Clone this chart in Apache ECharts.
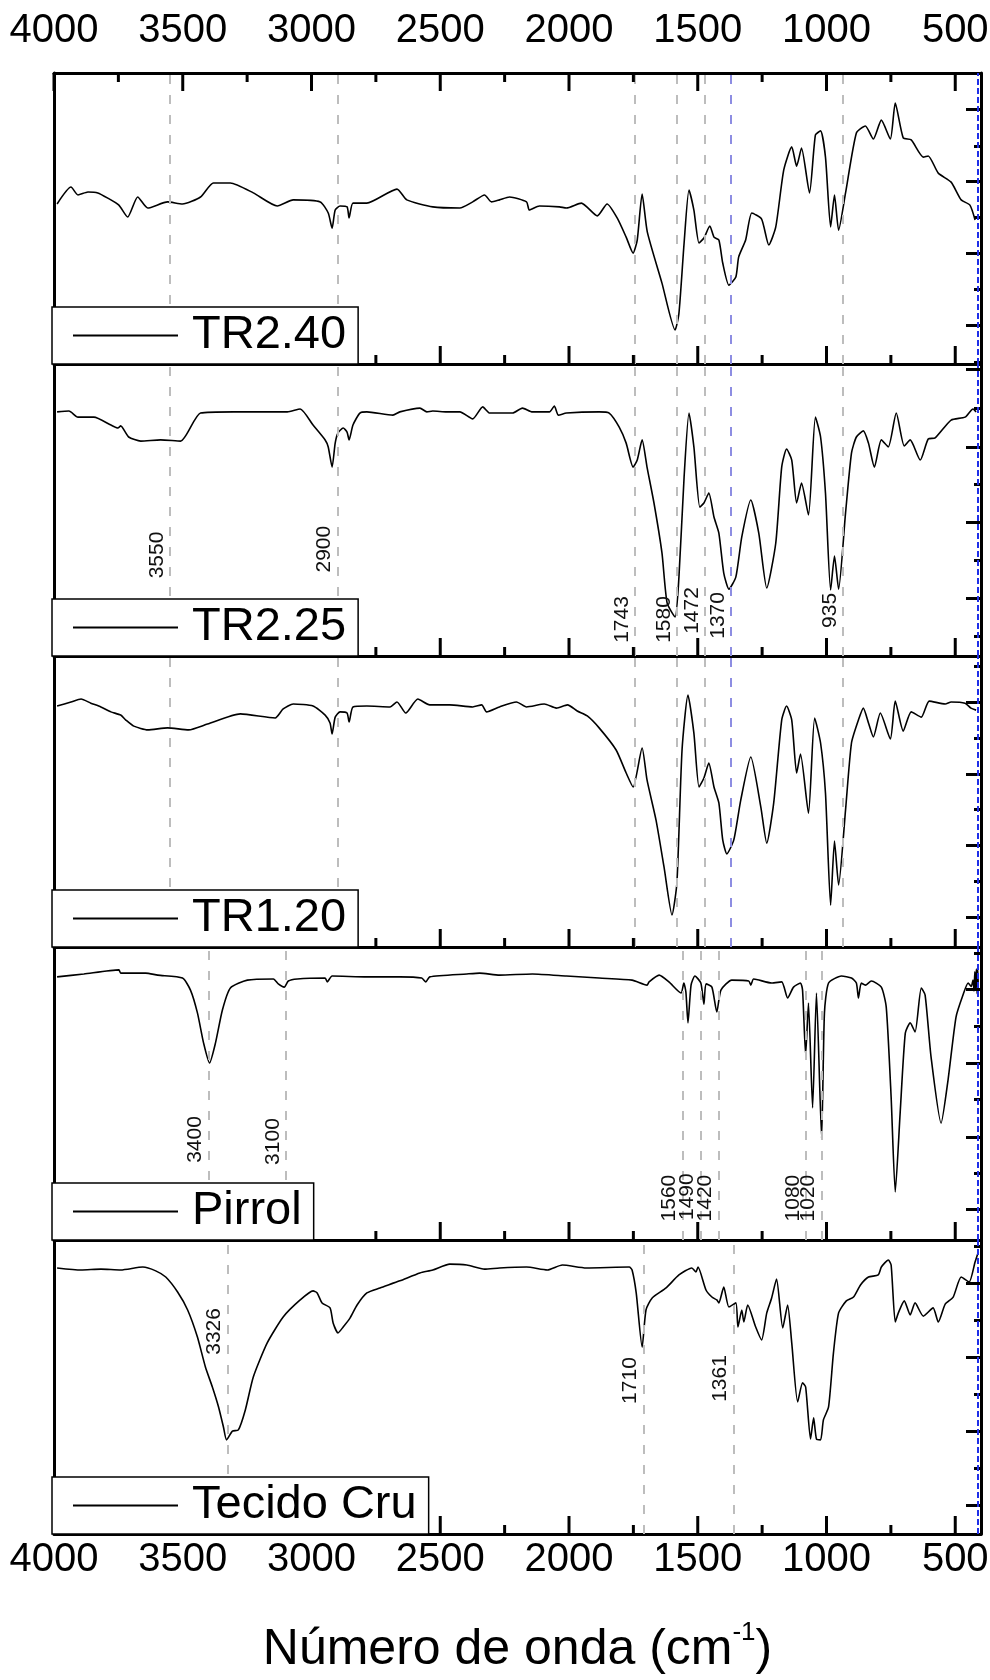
<!DOCTYPE html>
<html>
<head>
<meta charset="utf-8">
<script src="https://cdn.jsdelivr.net/npm/echarts@6/dist/echarts.min.js"></script>
<style>
  html, body { margin: 0; padding: 0; background: #fff; }
  #chart { width: 990px; height: 1680px; }
</style>
</head>
<body>
<div id="chart"></div>
<script>
// FTIR spectra, [wavenumber (cm-1), transmittance (a.u., 0-100 per panel)]
const tr240 = [
  [3988,55.0],[3934,60.8],[3907,58.1],[3868,59.1],[3830,58.8],[3791,57.0],[3748,54.6],[3714,50.5],
  [3675,57.4],[3636,53.6],[3559,55.7],[3501,55.0],[3431,57.4],[3381,62.2],[3315,62.2],[3226,58.8],
  [3133,54.3],[3071,56.4],[2966,55.7],[2935,51.9],[2920,46.7],[2908,52.9],[2889,54.3],[2862,54.0],
  [2854,50.2],[2839,55.3],[2785,55.3],[2668,60.1],[2630,56.4],[2529,54.0],[2424,53.6],[2374,55.7],
  [2328,58.1],[2301,55.7],[2270,56.4],[2231,57.4],[2165,55.7],[2154,52.9],[2115,54.3],[2037,54.0],
  [2010,53.6],[1952,55.3],[1890,50.9],[1852,55.0],[1813,50.2],[1778,43.6],[1751,38.1],[1735,42.6],
  [1716,58.4],[1696,45.4],[1639,27.8],[1588,11.7],[1573,17.5],[1553,41.6],[1534,59.8],[1515,52.9],
  [1495,41.6],[1476,43.3],[1453,47.4],[1437,43.6],[1418,42.6],[1403,34.7],[1379,27.1],[1352,29.9],
  [1341,36.8],[1314,42.6],[1290,51.9],[1252,49.8],[1224,40.9],[1197,47.1],[1166,66.7],[1135,74.6],
  [1116,68.0],[1097,74.2],[1066,58.8],[1043,78.7],[1023,80.1],[1004,71.1],[984,47.1],[969,58.1],
  [953,46.0],[926,58.8],[884,79.4],[849,81.8],[818,77.3],[787,83.8],[752,77.3],[733,89.7],
  [702,77.7],[671,77.0],[624,71.1],[605,71.5],[566,65.6],[516,62.5],[477,56.4],[443,54.6],[423,49.5]
];

const tr225 = [
  [3988,83.6],[3942,83.9],[3907,81.8],[3845,81.8],[3779,79.1],[3752,78.1],[3741,78.8],[3710,75.0],
  [3663,73.6],[3586,74.0],[3508,73.6],[3431,83.2],[3303,83.6],[3094,83.6],[3044,84.6],[2994,79.1],
  [2947,74.0],[2935,71.6],[2920,64.7],[2908,72.9],[2897,76.4],[2877,78.1],[2862,76.7],[2854,74.0],
  [2839,79.1],[2812,83.2],[2785,83.6],[2684,82.5],[2657,83.6],[2579,84.9],[2552,83.6],[2529,83.9],
  [2475,83.6],[2424,83.6],[2374,81.2],[2335,85.3],[2308,83.2],[2270,83.2],[2219,83.2],[2181,84.9],
  [2142,83.6],[2076,83.6],[2057,85.6],[2041,82.5],[2010,83.2],[1883,83.6],[1844,83.2],[1805,78.4],
  [1778,72.9],[1751,64.7],[1735,67.1],[1716,74.0],[1697,64.7],[1670,52.4],[1639,35.3],[1619,18.2],
  [1588,13.4],[1573,27.1],[1553,61.3],[1534,83.2],[1515,71.6],[1492,51.0],[1476,52.4],[1457,55.8],
  [1437,47.6],[1418,42.1],[1399,28.4],[1379,22.9],[1352,27.1],[1329,40.8],[1294,53.4],[1263,42.1],
  [1232,23.3],[1197,38.7],[1174,64.7],[1155,70.9],[1135,67.1],[1116,52.4],[1097,59.2],[1070,48.3],
  [1043,81.8],[1023,75.0],[1004,55.8],[984,22.6],[969,34.2],[953,22.9],[926,49.0],[903,69.5],
  [884,75.0],[857,77.1],[837,72.9],[814,64.7],[787,74.0],[760,71.6],[729,83.2],[698,71.9],
  [675,74.0],[636,67.1],[605,74.3],[578,74.7],[516,80.8],[462,81.8],[431,84.6],[419,83.6]
];

const tr120 = [
  [3988,82.8],[3934,84.2],[3895,85.2],[3857,83.8],[3818,82.5],[3779,80.8],[3741,79.7],[3721,78.0],
  [3690,75.9],[3636,74.6],[3559,75.3],[3477,74.6],[3404,76.6],[3276,80.1],[3141,78.7],[3110,81.8],
  [3071,83.5],[2994,82.8],[2947,79.7],[2928,77.0],[2920,73.2],[2908,79.0],[2889,80.8],[2862,80.4],
  [2854,77.3],[2839,82.5],[2785,82.8],[2695,82.5],[2668,84.2],[2634,80.4],[2587,85.2],[2541,83.2],
  [2463,83.2],[2374,82.5],[2339,83.2],[2320,80.8],[2270,82.5],[2204,84.2],[2165,82.5],[2096,83.5],
  [2049,82.1],[2006,83.2],[1968,81.1],[1929,79.4],[1883,75.3],[1817,67.7],[1778,59.8],[1751,55.0],
  [1716,68.4],[1697,57.4],[1662,43.6],[1631,27.5],[1600,11.0],[1581,22.0],[1561,67.7],[1538,86.6],
  [1515,73.5],[1495,55.0],[1476,58.1],[1457,63.2],[1437,55.0],[1418,49.5],[1403,36.8],[1387,32.0],
  [1360,36.8],[1333,50.5],[1294,65.3],[1255,48.1],[1232,35.7],[1205,49.5],[1174,78.0],[1155,82.8],
  [1135,78.0],[1116,59.8],[1101,66.3],[1070,46.0],[1046,78.7],[1023,70.1],[1004,52.9],[984,14.4],
  [969,36.4],[953,21.3],[926,47.1],[903,70.1],[876,78.0],[857,82.1],[837,77.0],[818,72.2],
  [791,80.4],[752,71.5],[733,84.5],[702,74.2],[671,80.8],[632,79.0],[601,84.5],[539,83.5],
  [516,84.2],[462,83.8],[439,82.1],[419,81.4]
];

const pirrol = [
  [3988,89.8],[3884,90.8],[3748,92.2],[3741,91.1],[3644,91.1],[3597,90.4],[3501,89.4],[3470,85.3],
  [3443,77.5],[3419,67.2],[3396,60.4],[3373,67.2],[3346,78.5],[3315,86.0],[3249,88.7],[3148,89.1],
  [3129,87.4],[3106,86.3],[3090,88.4],[3055,89.1],[2947,89.4],[2939,88.1],[2920,90.1],[2785,89.8],
  [2657,89.8],[2572,89.4],[2556,88.1],[2541,89.8],[2397,90.8],[2347,91.1],[2270,90.4],[2142,90.8],
  [2010,90.1],[1883,89.4],[1755,88.7],[1697,87.0],[1689,88.1],[1650,90.4],[1612,88.1],[1565,84.3],
  [1554,87.7],[1546,84.6],[1538,74.1],[1526,87.0],[1511,90.1],[1488,87.7],[1476,80.5],[1468,87.4],
  [1445,86.3],[1426,77.8],[1410,85.3],[1368,88.7],[1302,88.4],[1294,87.0],[1283,89.1],[1213,87.7],
  [1174,88.1],[1151,82.6],[1128,86.3],[1101,87.7],[1093,85.3],[1081,63.1],[1070,80.9],[1054,45.1],
  [1039,84.3],[1019,34.8],[1008,77.5],[992,87.7],[942,90.1],[903,89.4],[884,87.7],[876,82.6],
  [865,87.7],[849,87.0],[826,88.4],[787,86.3],[768,79.5],[749,48.8],[733,16.4],[714,43.3],
  [694,70.6],[675,74.1],[656,71.0],[632,86.0],[617,83.6],[594,62.5],[555,39.9],[528,54.6],
  [497,76.1],[470,83.6],[450,87.7],[438,86.5],[431,88.7],[427,85.0],[424,91.5],[421,86.0],
  [418,92.5],[415,84.0],[413,93.0],[411,88.0]
];

const tecidoCru = [
  [3988,90.5],[3895,89.8],[3818,90.1],[3741,89.8],[3655,90.8],[3605,89.5],[3566,87.4],[3520,82.3],
  [3481,76.2],[3443,67.0],[3412,56.8],[3385,50.0],[3361,43.2],[3342,36.4],[3330,32.0],[3307,35.0],
  [3284,35.4],[3257,42.2],[3226,53.4],[3172,65.0],[3110,73.8],[3044,79.6],[2994,82.7],[2978,82.0],
  [2959,78.6],[2928,76.9],[2916,71.8],[2897,68.4],[2877,70.4],[2850,73.5],[2823,77.9],[2785,82.0],
  [2734,83.7],[2657,86.1],[2579,88.8],[2529,89.8],[2463,91.8],[2397,91.5],[2328,90.1],[2270,90.5],
  [2165,90.8],[2084,89.8],[2026,91.5],[1933,90.5],[1766,90.8],[1755,89.8],[1739,82.0],[1716,63.6],
  [1701,76.2],[1677,80.3],[1623,83.7],[1573,88.1],[1523,90.5],[1507,89.1],[1499,90.8],[1468,83.0],
  [1445,80.6],[1426,79.6],[1418,78.6],[1399,84.0],[1379,77.2],[1352,78.6],[1344,70.4],[1329,76.2],
  [1321,72.1],[1306,77.9],[1275,70.4],[1252,66.0],[1232,75.2],[1213,80.3],[1194,86.7],[1170,70.1],
  [1151,77.9],[1135,65.0],[1112,44.9],[1093,51.4],[1081,50.0],[1062,32.3],[1050,39.5],[1039,32.3],
  [1023,32.0],[1012,38.8],[992,43.2],[973,61.6],[953,75.2],[923,79.3],[895,80.6],[868,84.7],
  [837,87.4],[799,88.1],[787,90.8],[760,93.2],[749,91.5],[733,72.1],[721,75.2],[698,79.3],
  [675,74.5],[656,78.6],[624,74.1],[586,76.9],[566,72.1],[539,78.2],[508,80.6],[477,87.4],
  [446,85.7],[423,92.5],[410,96.0]
];

// Band positions (cm-1) marked with dashed guides
const bandsTR = [3550, 2900, 1743, 1580, 1472, 1370, 935];
const bandsPirrol = [3400, 3100, 1560, 1490, 1420, 1080, 1020];
const bandsTecido = [3326, 1710, 1361];
// Transmittance level at which each band label is centred
const labelLevelTR = [34.6, 36.6, 12.5, 12.5, 15.6, 13.9, 15.6];
const labelLevelPirrol = [34.3, 33.6, 14.3, 14.8, 14.3, 14.3, 14.3];
const labelLevelTecido = [68.9, 52.2, 52.9];

// Wavenumber axis: range, labelled ticks and intermediate ticks
const xRange = [400, 4000];
const xMajorStep = 500;
const xMajorTicks = [4000, 3500, 3000, 2500, 2000, 1500, 1000, 500];
const xMinorTicks = [3750, 3250, 2750, 2250, 1750, 1250, 750];
const edgeGuide = 414;

// Right-hand ticks of each panel
const yMajorTicks = [
  [87.6, 62.9, 38.1, 13.4],
  [98.3, 71.6, 45.9, 19.9],
  [84.2, 59.5, 35.1, 10.3],
  [85.7, 60.4, 35.2, 10.6],
  [85.4, 60.2, 35.0, 9.9]
];
const yMinorTicks = [
  [74.9, 50.5, 25.8, 0.7],
  [84.9, 58.9, 32.9, 6.8],
  [96.6, 71.8, 47.4, 22.7],
  [98.0, 73.0, 48.1, 22.9],
  [97.9, 72.8, 47.6, 22.4]
];

const seriesNames = ['TR2.40', 'TR2.25', 'TR1.20', 'Pirrol', 'Tecido Cru'];
const seriesData = [tr240, tr225, tr120, pirrol, tecidoCru];

// ---- layout & style ----
const FONT = '"Liberation Sans", Arial, Helvetica, sans-serif';
const CH = 1680;
const PLOT_LEFT = 54, PLOT_WIDTH = 927;
const layout = [
  { top: 73, height: 291 },
  { top: 364, height: 292 },
  { top: 656, height: 291 },
  { top: 947, height: 293 },
  { top: 1240, height: 294 }
];
const MAJOR_TICK = 18, MINOR_TICK = 9;
const bandsOf = [bandsTR, bandsTR, bandsTR, bandsPirrol, bandsTecido];
const labelsOf = [null, labelLevelTR, null, labelLevelPirrol, labelLevelTecido];
const axisLineStyle = { color: '#000', width: 3 };
const guideStyle = { color: '#bdbdbd', width: 2, type: [9, 11] };

const grids = [], xAxes = [], yAxes = [], series = [], legends = [];

function xAxisDef(i, position, showLabel) {
  const axis = {
    gridIndex: i, type: 'value', min: xRange[0], max: xRange[1], inverse: true,
    position: position, splitNumber: 8, minInterval: xMajorStep, maxInterval: xMajorStep,
    axisLine: { show: true, onZero: false, lineStyle: axisLineStyle },
    axisTick: { show: false },
    axisLabel: { show: false },
    splitLine: { show: false }
  };
  if (showLabel) {
    axis.axisLabel = { show: true, fontSize: 40, color: '#000', fontFamily: FONT,
      margin: position === 'top' ? 22 : 6,
      formatter: v => (v % xMajorStep === 0 ? String(v) : '') };
  }
  return axis;
}

layout.forEach((box, i) => {
  grids.push({ left: PLOT_LEFT, width: PLOT_WIDTH, top: box.top, height: box.height,
    outerBoundsMode: 'none' });

  const xi = xAxes.length;
  const bottom = xAxisDef(i, 'bottom', i === 4);
  if (i === 4) {
    bottom.name = '{t|Número de onda (cm}{s|-1}{t|)}';
    bottom.nameLocation = 'middle';
    bottom.nameGap = 86;
    bottom.nameTextStyle = {
      rich: {
        t: { fontSize: 50, fontFamily: FONT, color: '#000', lineHeight: 60 },
        s: { fontSize: 26, fontFamily: FONT, color: '#000', verticalAlign: 'top', lineHeight: 60, padding: [0, 0, 20, 0] }
      }
    };
  }
  xAxes.push(bottom);
  if (i === 0) xAxes.push(xAxisDef(i, 'top', true));

  const yi = yAxes.length;
  yAxes.push({ gridIndex: i, type: 'value', min: 0, max: 100, position: 'left',
    axisLine: { show: true, onZero: false, lineStyle: axisLineStyle },
    axisTick: { show: false }, axisLabel: { show: false }, splitLine: { show: false } });
  yAxes.push({ gridIndex: i, type: 'value', min: 0, max: 100, position: 'right',
    axisLine: { show: true, onZero: false, lineStyle: axisLineStyle },
    axisTick: { show: true, inside: true, length: 15, lineStyle: { color: '#000', width: 3 },
      customValues: yMajorTicks[i] },
    axisLabel: { show: false }, splitLine: { show: false } });
  yAxes.push({ gridIndex: i, type: 'value', min: 0, max: 100, position: 'right',
    axisLine: { show: false, onZero: false },
    axisTick: { show: true, inside: true, length: 7, lineStyle: { color: '#000', width: 3 },
      customValues: yMinorTicks[i] },
    axisLabel: { show: false }, splitLine: { show: false } });

  const guides = bandsOf[i].map(v => v === 1370
    ? { xAxis: v, lineStyle: { color: '#8d8de2', width: 2, type: [9, 11] } }
    : { xAxis: v });
  guides.push({ xAxis: edgeGuide, lineStyle: { color: '#1f2fe8', width: 2, type: [6, 3] } });

  series.push({
    type: 'line', name: seriesNames[i], xAxisIndex: xi, yAxisIndex: yi,
    data: seriesData[i], showSymbol: false, symbol: 'none', smooth: 0.2,
    color: '#000', lineStyle: { color: '#000', width: 1.6 },
    markLine: { symbol: 'none', label: { show: false }, lineStyle: guideStyle, data: guides }
  });

  legends.push({
    data: [seriesNames[i]], left: 52, bottom: CH - (box.top + box.height),
    icon: 'rect', itemWidth: 105, itemHeight: 2, selectedMode: false,
    padding: [5, 12, 5, 21], borderColor: '#000', borderWidth: 1.5,
    backgroundColor: '#fff', z: 10,
    textStyle: { fontSize: 47, color: '#000', fontFamily: FONT, padding: [0, 0, 0, 9] }
  });
});

const chart = echarts.init(document.getElementById('chart'));
chart.setOption({
  backgroundColor: '#fff',
  animation: false,
  grid: grids, xAxis: xAxes, yAxis: yAxes, series: series, legend: legends
});

const extras = [];

// Inward wavenumber ticks on each panel's lower edge (and the top edge of the first panel),
// positioned through each panel's own scales
function tickMark(i, value, edgeLevel, length, dir) {
  const p = chart.convertToPixel({ gridIndex: i }, [value, edgeLevel]);
  extras.push({
    type: 'line', silent: true, z: 5,
    shape: { x1: p[0], y1: p[1], x2: p[0], y2: p[1] + dir * length },
    style: { stroke: '#000', lineWidth: 3 }
  });
}
layout.forEach((box, i) => {
  xMajorTicks.forEach(v => tickMark(i, v, 0, MAJOR_TICK, -1));
  xMinorTicks.forEach(v => tickMark(i, v, 0, MINOR_TICK, -1));
  if (i === 0) {
    xMajorTicks.forEach(v => tickMark(i, v, 100, MAJOR_TICK, 1));
    xMinorTicks.forEach(v => tickMark(i, v, 100, MINOR_TICK, 1));
  }
});

// Rotated band labels
labelsOf.forEach((levels, i) => {
  if (!levels) return;
  bandsOf[i].forEach((band, k) => {
    const p = chart.convertToPixel({ gridIndex: i }, [band, levels[k]]);
    extras.push({
      type: 'text', x: p[0] - 13, y: p[1], rotation: Math.PI / 2, z: 20, silent: true,
      style: { text: String(band), fontSize: 21, fontFamily: FONT, fill: '#111',
        align: 'center', verticalAlign: 'middle' }
    });
  });
});
chart.setOption({ graphic: extras });
</script>
</body>
</html>
